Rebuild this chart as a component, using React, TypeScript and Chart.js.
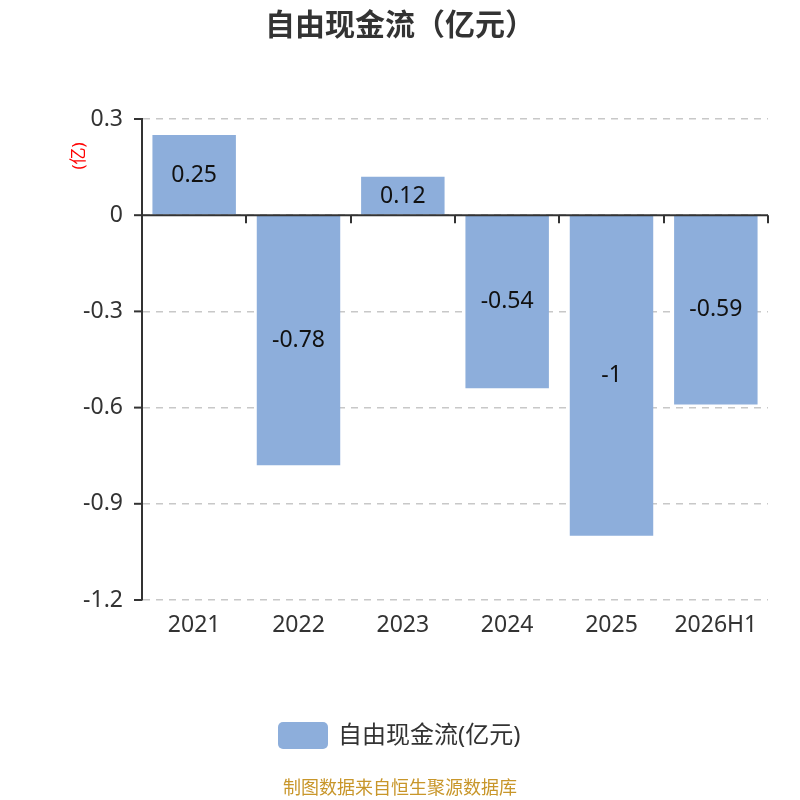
import { useEffect, useRef } from "react";
import { Chart, registerables } from "chart.js";

Chart.register(...registerables);

const years = ["2021", "2022", "2023", "2024", "2025", "2026H1"];
const freeCashFlow = [0.25, -0.78, 0.12, -0.54, -1, -0.59];

const TITLE = "自由现金流（亿元）";
const SERIES_NAME = "自由现金流(亿元)";
const UNIT_LABEL = "(亿)";
const SOURCE = "制图数据来自恒生聚源数据库";

const BAR_COLOR = "#8daedb";
const AXIS_COLOR = "#333333";
const FONT = "'Noto Sans', 'Noto Sans CJK SC', sans-serif";

const fmt = (v: number) => String(Math.round(v * 100) / 100);

// draws title, legend, source, labels and the axis ticks
const decorations = {
  id: "decorations",
  afterDatasetsDraw(chart: Chart) {
    const { ctx, chartArea, scales } = chart;
    const x = scales.x;
    const y = scales.y;
    ctx.save();

    // zero line with ticks at category boundaries
    const zeroY = y.getPixelForValue(0);
    ctx.strokeStyle = AXIS_COLOR;
    ctx.lineWidth = 2;
    ctx.beginPath();
    ctx.moveTo(chartArea.left, zeroY);
    ctx.lineTo(chartArea.right, zeroY);
    ctx.stroke();
    const step = (chartArea.right - chartArea.left) / years.length;
    for (let i = 1; i <= years.length; i++) {
      const px = Math.round(chartArea.left + step * i);
      ctx.beginPath();
      ctx.moveTo(px, zeroY);
      ctx.lineTo(px, zeroY + 8);
      ctx.stroke();
    }

    // y tick marks
    y.ticks.forEach((t) => {
      const py = y.getPixelForValue(t.value);
      ctx.beginPath();
      ctx.moveTo(chartArea.left - 8, py);
      ctx.lineTo(chartArea.left, py);
      ctx.stroke();
    });

    // value labels
    ctx.fillStyle = "#111111";
    ctx.font = `23px ${FONT}`;
    ctx.textAlign = "center";
    ctx.textBaseline = "middle";
    freeCashFlow.forEach((v, i) => {
      const px = x.getPixelForValue(i);
      const py = y.getPixelForValue(v / 2);
      ctx.fillText(fmt(v), px, py);
    });

    // unit label
    ctx.save();
    ctx.translate(79, 156);
    ctx.rotate(-Math.PI / 2);
    ctx.fillStyle = "#ff0000";
    ctx.font = `17px ${FONT}`;
    ctx.fillText(UNIT_LABEL, 0, 0);
    ctx.restore();

    // title
    ctx.fillStyle = "#333333";
    ctx.font = `bold 30px 'Noto Sans CJK SC', sans-serif`;
    ctx.fillText(TITLE, 400, 24);

    // legend
    ctx.fillStyle = BAR_COLOR;
    ctx.beginPath();
    ctx.roundRect(278, 722, 50, 27, 5);
    ctx.fill();
    ctx.fillStyle = "#333333";
    ctx.font = `24px ${FONT}`;
    ctx.textAlign = "left";
    ctx.fillText(SERIES_NAME, 338, 736);

    // source
    ctx.fillStyle = "#c8962a";
    ctx.font = `18px ${FONT}`;
    ctx.textAlign = "center";
    ctx.fillText(SOURCE, 400, 789);

    ctx.restore();
  },
};

export default function App() {
  const canvasRef = useRef<HTMLCanvasElement>(null);

  useEffect(() => {
    if (!canvasRef.current) return;
    const chart = new Chart(canvasRef.current, {
      type: "bar",
      data: {
        labels: years,
        datasets: [
          {
            label: SERIES_NAME,
            data: freeCashFlow,
            backgroundColor: BAR_COLOR,
            barPercentage: 0.8,
            categoryPercentage: 1,
          },
        ],
      },
      options: {
        animation: false,
        responsive: false,
        devicePixelRatio: 1,
        layout: { padding: { left: 70, right: 32, top: 119, bottom: 160 } },
        plugins: {
          legend: { display: false },
          tooltip: { enabled: false },
          title: { display: false },
        },
        scales: {
          x: {
            grid: { display: false },
            border: { display: false },
            ticks: {
              color: "#333333",
              font: { family: FONT, size: 23 },
              padding: 4,
              maxRotation: 0,
            },
            afterFit: (scale: any) => {
              scale.height = 40;
            },
          },
          y: {
            min: -1.2,
            max: 0.3,
            ticks: {
              stepSize: 0.3,
              color: "#333333",
              font: { family: FONT, size: 23 },
              padding: 19,
              callback: (v: any) => fmt(Number(v)),
            },
            grid: {
              color: "#c8c8c8",
              lineWidth: 1.5,
              drawTicks: false,
            },
            border: {
              display: true,
              color: AXIS_COLOR,
              width: 2,
              dash: [7, 6],
            },
            afterFit: (scale: any) => {
              scale.width = 72;
            },
          },
        },
      },
      plugins: [decorations],
    });
    return () => chart.destroy();
  }, []);

  return (
    <div style={{ position: "absolute", left: 0, top: 0, width: 800, height: 800, background: "#fff" }}>
      <canvas ref={canvasRef} width={800} height={800} />
    </div>
  );
}
